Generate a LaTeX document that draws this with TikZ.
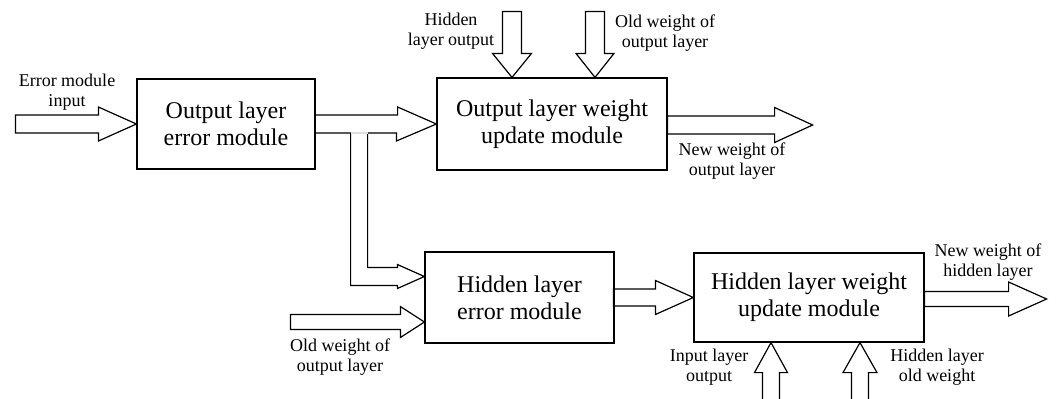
\documentclass[tikz,border=0pt]{standalone}
\usepackage{fontspec}
\setmainfont{Liberation Serif}
\usetikzlibrary{calc}

\tikzset{
	box/.style={draw, line width=0.6pt, align=center, inner sep=2pt, font=\fontsize{12}{13.5}\selectfont},
	lbl/.style={align=center, inner sep=0pt, font=\fontsize{9}{10}\selectfont},
	blk/.style={draw, line width=0.6pt, line join=miter}
}
% block arrows: tip, shaft length, head length, head half width, shaft half width
\newcommand{\arrR}[5]{\draw[blk] (#1) -- ++(-#3,-#4) -- ++(0,#4-#5) -- ++(-#2,0) -- ++(0,2*#5) -- ++(#2,0) -- ++(0,#4-#5) -- cycle;}
\newcommand{\arrD}[5]{\draw[blk] (#1) -- ++(-#4,-#3) -- ++(#4-#5,0) -- ++(0,-#2) -- ++(2*#5,0) -- ++(0,#2) -- ++(#4-#5,0) -- cycle;}
\newcommand{\arrU}[5]{\draw[blk] (#1) -- ++(-#4,#3) -- ++(#4-#5,0) -- ++(0,#2) -- ++(2*#5,0) -- ++(0,-#2) -- ++(#4-#5,0) -- cycle;}

\begin{document}
\begin{tikzpicture}[x=0.5pt, y=-0.5pt]
	\useasboundingbox (0,0) rectangle (1057,398);
	\node[box, minimum width=89pt, minimum height=45pt] (ole) at (226,124) {Output layer\\error module};
	\node[box, minimum width=115pt, minimum height=46pt] (olw) at (552,124) {Output layer weight\\update module};
	\node[box, minimum width=94.5pt, minimum height=45.5pt] (hle) at (519.5,297.5) {Hidden layer\\error module};
	\node[box, minimum width=115pt, minimum height=44.5pt] (hlw) at (809,297.5) {Hidden layer weight\\update module};

	\coordinate (jo) at ($(ole.east)+(35,9)$);
	\coordinate (ji) at ($(ole.east)+(52,9)$);
	\coordinate (bt) at ($(hle.west)+(0,-21)$);
	\coordinate (owin) at ($(hle.west)+(0,24.5)$);
	\coordinate (olout) at ($(olw.east)+(145,1)$);
	\coordinate (hlout) at ($(hlw.east)+(122,1.5)$);
	\coordinate (hoin) at ($(olw.north)+(-40,0)$);
	\coordinate (owtop) at ($(olw.north)+(43,0)$);
	\coordinate (ilin) at ($(hlw.south)+(-38,0)$);
	\coordinate (hwin) at ($(hlw.south)+(51,0)$);

	\arrR{ole.west}{83}{38}{17}{9}
	\draw[blk] ($(ole.east)+(0,-9)$) -- ++(82,0) -- ++(0,-8) -- (olw.west) -- ++(-40,17) -- ++(0,-8) -- (ji)
		|- ($(bt)+(-27,-9)$) -- ++(0,-3) -- (bt) -- ++(-27,12) -- ++(0,-3) -| (jo) -- ($(ole.east)+(0,9)$);
	\draw[gray!25, line width=0.6pt] (jo) -- (ji);
	\arrR{owin}{110}{24}{15.5}{7.5}
	\arrR{hlw.west}{42}{38}{17}{8.5}
	\arrR{olout}{107}{38}{17.5}{9}
	\arrR{hlout}{84}{38}{17}{7.5}
	\arrD{hoin}{42}{24}{19.5}{9.5}
	\arrD{owtop}{42}{24}{19}{9.5}
	\arrU{ilin}{30}{30}{16.5}{8.5}
	\arrU{hwin}{30}{30}{17}{8.5}

	\node[lbl] (l1) at (67,92) {Error module\\input};
	\node[lbl] (l2) at (451,31) {Hidden\\layer output};
	\node[lbl] (l3) at (665,33) {Old weight of\\output layer};
	\node[lbl] (l4) at (732,161) {New weight of\\output layer};
	\node[lbl] (l5) at (340,357) {Old weight of\\output layer};
	\node[lbl] (l6) at (709,367) {Input layer\\output};
	\node[lbl] (l7) at (937,367) {Hidden layer\\old weight};
	\node[lbl] (l8) at (988,262) {New weight of\\hidden layer};
\end{tikzpicture}
\end{document}
